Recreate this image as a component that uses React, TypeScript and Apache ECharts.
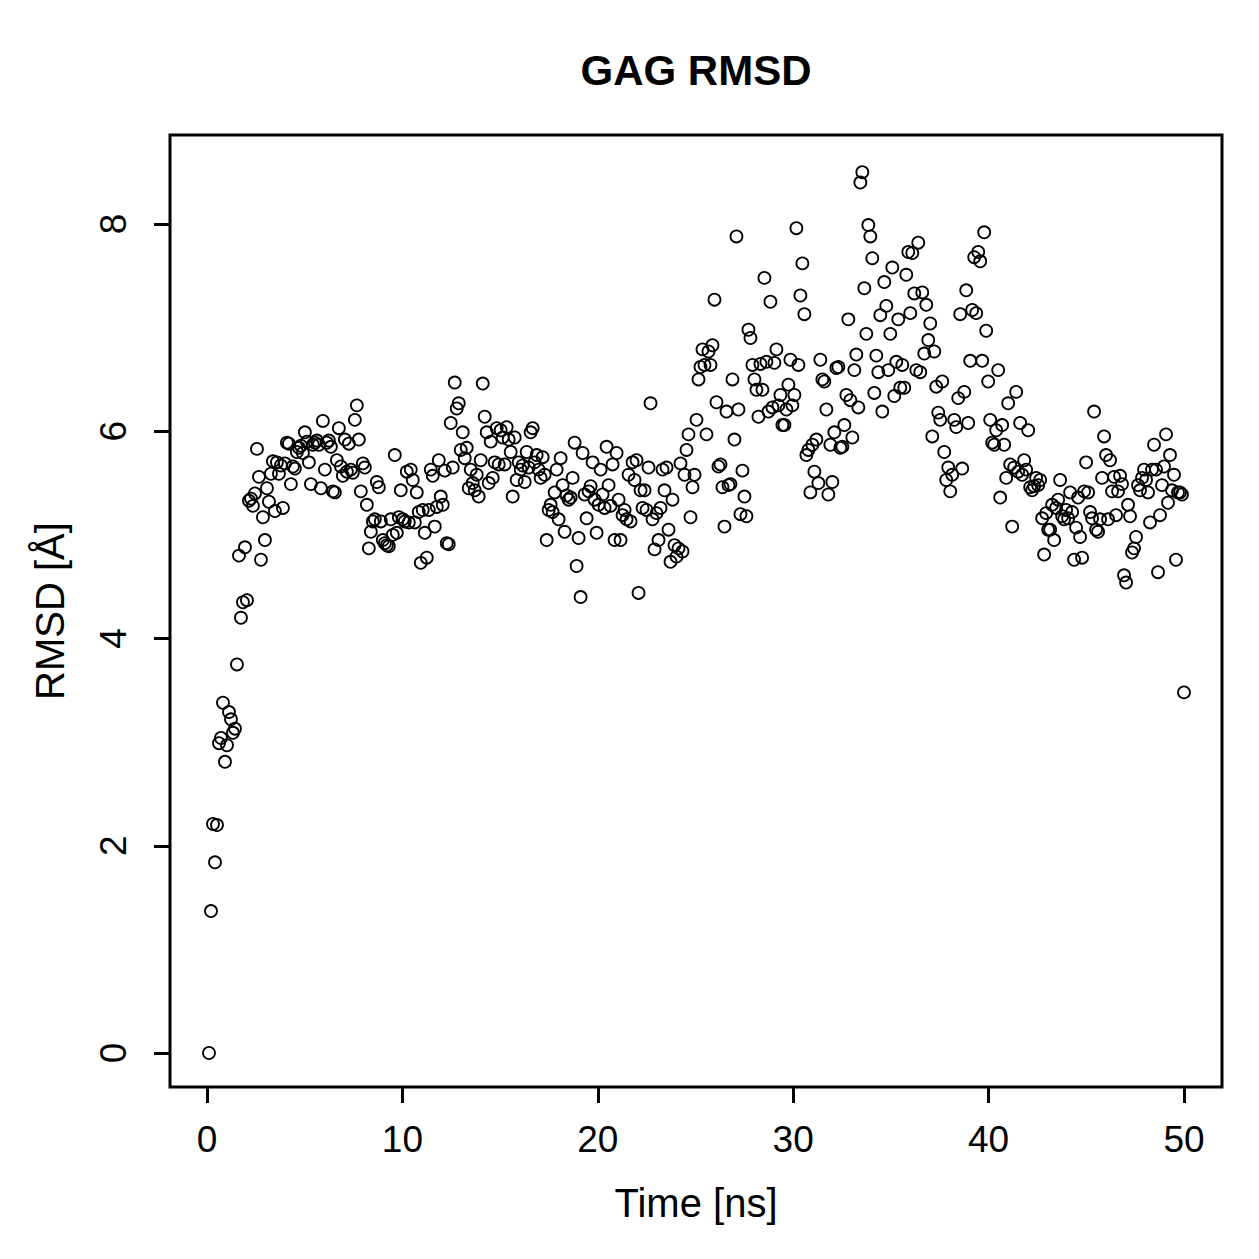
import React, { useEffect, useRef } from "react";
import * as echarts from "echarts";

const TITLE = "GAG RMSD";
const X_LABEL = "Time [ns]";
const Y_LABEL = "RMSD [Å]";
const X_TICKS = [0, 10, 20, 30, 40, 50];
const Y_TICKS = [0, 2, 4, 6, 8];
const T_END = 50; // ns, last frame of the trajectory

// RMSD per frame (Å), frames evenly spaced up to T_END
const RMSD_0_10 = [
  0.0, 1.37, 2.21, 1.84, 2.2, 2.99, 3.04, 3.38, 2.81, 2.97, 3.29, 3.22, 3.09, 3.13, 3.75, 4.8, 4.2, 4.35, 4.88, 4.37, 5.33, 5.35, 5.28, 5.4, 5.83,
  5.56, 4.76, 5.17, 4.95, 5.45, 5.32, 5.59, 5.71, 5.23, 5.7, 5.59, 5.67, 5.26, 5.69, 5.89, 5.88, 5.49, 5.66, 5.64, 5.8, 5.84, 5.86, 5.79, 5.99, 5.9,
  5.7, 5.49, 5.87, 5.89, 5.91, 5.87, 5.45, 6.1, 5.63, 5.89, 5.91, 5.85, 5.42, 5.41, 5.72, 6.03, 5.66, 5.57, 5.92, 5.61, 5.88, 5.63, 5.6, 6.11, 6.25,
  5.92, 5.42, 5.69, 5.65, 5.29, 4.87, 5.03, 5.13, 5.15, 5.51, 5.46, 5.13, 4.95, 4.92, 4.9, 4.89, 5.15, 5.0, 5.77, 5.02, 5.17, 5.43, 5.15, 5.13, 5.61,
];
const RMSD_10_20 = [
  5.12, 5.63, 5.53, 5.12, 5.41, 5.22, 4.73, 5.24, 5.02, 4.78, 5.24, 5.63, 5.57, 5.08, 5.27, 5.72, 5.37, 5.29, 5.62, 4.92, 4.91, 6.08, 5.65, 6.47, 6.22,
  6.27, 5.82, 5.99, 5.74, 5.84, 5.45, 5.63, 5.5, 5.43, 5.58, 5.37, 5.72, 6.46, 6.14, 5.99, 5.5, 5.9, 5.55, 5.7, 6.03, 5.68, 6.01, 5.94, 5.68, 6.04,
  5.92, 5.8, 5.37, 5.94, 5.53, 5.7, 5.63, 5.67, 5.51, 5.8, 5.65, 5.99, 6.03, 5.7, 5.77, 5.63, 5.55, 5.75, 5.58, 4.95, 5.24, 5.29, 5.22, 5.41, 5.63,
  5.15, 5.74, 5.48, 5.03, 5.38, 5.34, 5.36, 5.55, 5.89, 4.7, 4.97, 4.4, 5.79, 5.39, 5.16, 5.42, 5.47, 5.7, 5.34, 5.02, 5.29, 5.63, 5.39, 5.26, 5.85,
];
const RMSD_20_30 = [
  5.48, 5.28, 5.68, 4.95, 5.79, 5.34, 4.95, 5.19, 5.24, 5.15, 5.58, 5.13, 5.7, 5.53, 5.72, 4.44, 5.43, 5.26, 5.43, 5.24, 5.65, 6.27, 5.15, 4.86, 5.21,
  4.95, 5.26, 5.63, 5.43, 5.65, 5.05, 4.74, 5.34, 4.9, 4.79, 4.87, 5.69, 4.84, 5.58, 5.82, 5.97, 5.17, 5.46, 5.58, 6.11, 6.5, 6.62, 6.79, 6.64, 5.97,
  6.77, 6.64, 6.83, 7.27, 6.28, 5.66, 5.68, 5.46, 5.08, 6.19, 5.48, 5.49, 6.5, 5.92, 7.88, 6.21, 5.2, 5.62, 5.37, 5.18, 6.98, 6.9, 6.64, 6.5, 6.4,
  6.14, 6.65, 6.4, 7.48, 6.67, 6.19, 7.25, 6.23, 6.66, 6.79, 6.25, 6.35, 6.06, 6.06, 6.21, 6.45, 6.69, 6.25, 6.35, 7.96, 6.64, 7.31, 7.62, 7.13, 5.77,
];
const RMSD_30_40 = [
  5.82, 5.41, 5.87, 5.61, 5.92, 5.5, 6.69, 6.5, 6.48, 6.21, 5.39, 5.87, 5.51, 5.99, 6.61, 6.62, 5.84, 5.85, 6.06, 6.35, 7.08, 6.3, 5.94, 6.59, 6.74,
  6.23, 8.4, 8.5, 7.38, 6.94, 7.99, 7.88, 7.67, 6.37, 6.73, 6.57, 7.12, 6.19, 7.44, 7.21, 6.59, 6.94, 7.58, 6.34, 6.67, 7.08, 6.42, 6.64, 6.42, 7.51,
  7.73, 7.14, 7.72, 7.33, 6.59, 7.82, 6.57, 7.34, 6.75, 7.22, 6.88, 7.04, 5.95, 6.77, 6.43, 6.18, 6.11, 6.48, 5.8, 5.53, 5.65, 5.42, 5.58, 6.11, 6.04,
  6.32, 7.13, 5.64, 6.38, 7.36, 6.08, 6.68, 7.17, 7.68, 7.14, 7.73, 7.64, 6.68, 7.92, 6.97, 6.48, 6.11, 5.89, 5.87, 6.01, 6.59, 5.36, 6.06, 5.87, 5.55,
];
const RMSD_40_50 = [
  6.27, 5.68, 5.08, 5.65, 6.38, 5.61, 6.08, 5.58, 5.72, 5.63, 6.01, 5.46, 5.43, 5.47, 5.55, 5.48, 5.53, 5.16, 4.81, 5.21, 5.05, 5.05, 5.29, 4.95, 5.26,
  5.34, 5.53, 5.18, 5.15, 5.24, 5.16, 5.41, 5.22, 4.76, 5.07, 5.36, 4.98, 4.78, 5.42, 5.7, 5.41, 5.22, 5.16, 6.19, 5.05, 5.03, 5.15, 5.55, 5.95, 5.77,
  5.15, 5.72, 5.42, 5.56, 5.19, 5.42, 5.57, 5.49, 4.61, 4.54, 5.29, 5.18, 4.83, 4.87, 4.98, 5.48, 5.43, 5.55, 5.63, 5.53, 5.41, 5.12, 5.63, 5.87, 5.63,
  4.64, 5.19, 5.48, 5.66, 5.97, 5.31, 5.77, 5.43, 5.58, 4.76, 5.41, 5.41, 5.39, 3.48,
];
const RMSD = [...RMSD_0_10, ...RMSD_10_20, ...RMSD_20_30, ...RMSD_30_40, ...RMSD_40_50];

const FONT = "'Liberation Sans', Arial, Helvetica, sans-serif";

export default function App() {
  const ref = useRef<HTMLDivElement>(null);

  useEffect(() => {
    if (!ref.current) return;
    const chart = echarts.init(ref.current, null, { renderer: "svg" });
    const points = RMSD.map((v, i) => [((i + 1) * T_END) / RMSD.length, v]);

    chart.setOption({
      animation: false,
      backgroundColor: "#ffffff",
      textStyle: { fontFamily: FONT, color: "#000" },
      graphic: [
        {
          type: "text",
          x: 696,
          y: 70,
          style: {
            text: TITLE,
            font: `bold 42px ${FONT}`,
            fill: "#000",
            align: "center",
            verticalAlign: "middle",
          },
        },
      ],
      grid: {
        left: 170,
        top: 135,
        width: 1052,
        height: 952,
        show: true,
        borderColor: "#000",
        borderWidth: 3,
        backgroundColor: "transparent",
      },
      xAxis: {
        type: "value",
        min: -1.8935,
        max: 51.945,
        splitLine: { show: false },
        axisLine: { show: false, onZero: false },
        axisTick: {
          show: true,
          length: 16,
          customValues: X_TICKS,
          lineStyle: { color: "#000", width: 3 },
        },
        axisLabel: {
          customValues: X_TICKS,
          fontSize: 37,
          color: "#000",
          fontFamily: FONT,
          margin: 34,
        },
        name: X_LABEL,
        nameLocation: "middle",
        nameGap: 96,
        nameTextStyle: { fontSize: 40, color: "#000", fontFamily: FONT },
      },
      yAxis: {
        type: "value",
        min: -0.328,
        max: 8.859,
        splitLine: { show: false },
        axisLine: { show: false, onZero: false },
        axisTick: {
          show: true,
          length: 16,
          customValues: Y_TICKS,
          lineStyle: { color: "#000", width: 3 },
        },
        axisLabel: {
          customValues: Y_TICKS,
          rotate: 90,
          fontSize: 37,
          color: "#000",
          fontFamily: FONT,
          margin: 38,
        },
        name: Y_LABEL,
        nameLocation: "middle",
        nameGap: 100,
        nameTextStyle: { fontSize: 40, color: "#000", fontFamily: FONT },
      },
      series: [
        {
          type: "scatter",
          data: points,
          symbol: "circle",
          symbolSize: 12,
          silent: true,
          itemStyle: {
            color: "rgba(0,0,0,0)",
            borderColor: "#000",
            borderWidth: 1.8,
            opacity: 1,
          },
          emphasis: { disabled: true },
        },
      ],
    });

    return () => chart.dispose();
  }, []);

  return (
    <div
      ref={ref}
      style={{ position: "fixed", left: 0, top: 0, width: 1259, height: 1259, background: "#fff" }}
    />
  );
}
